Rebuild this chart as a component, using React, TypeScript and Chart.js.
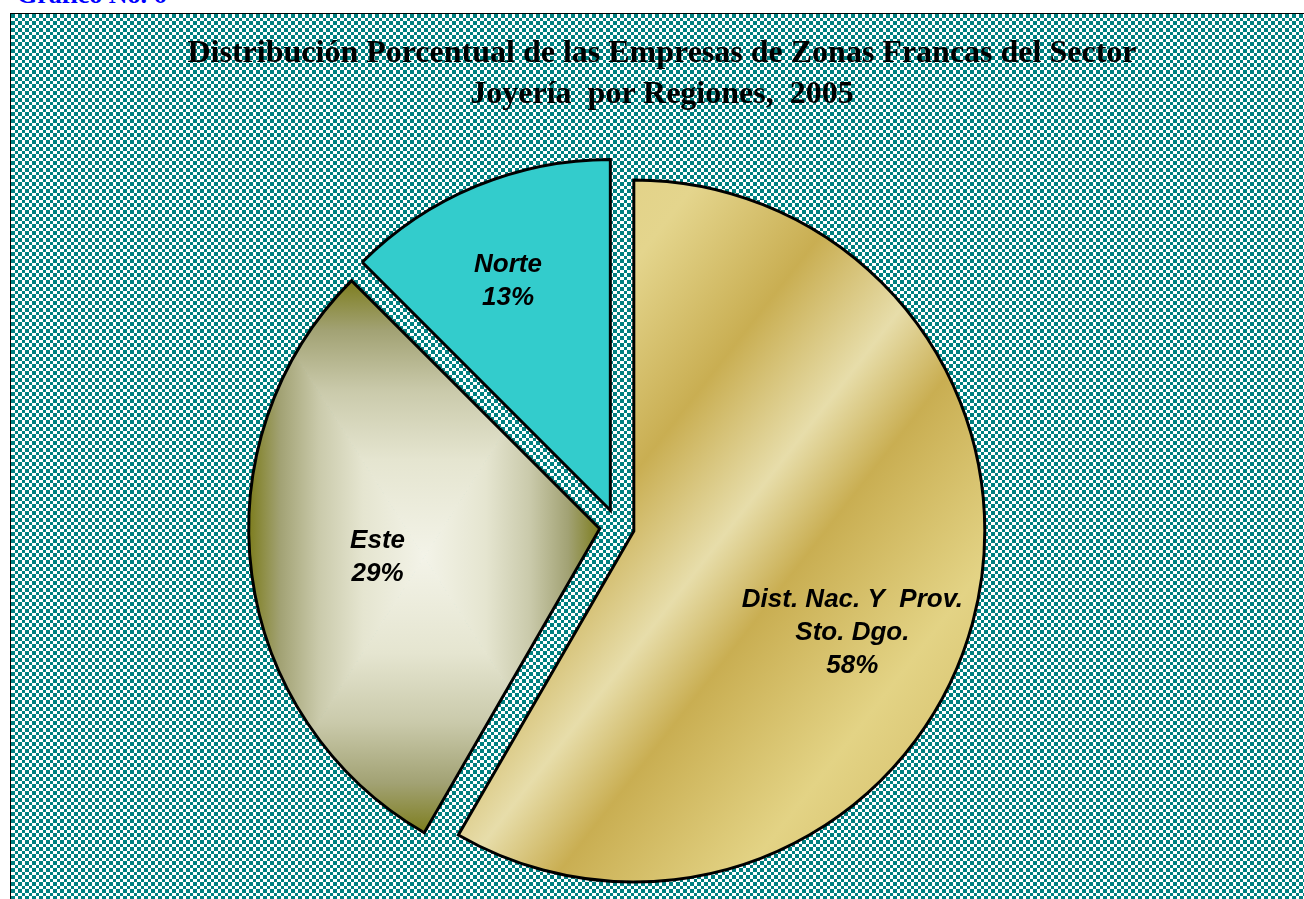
import React, { useEffect, useRef } from "react";
import { Chart, registerables } from "chart.js";

Chart.register(...registerables);

// ---------- data ----------
const categories = ["Dist. Nac. Y  Prov.\nSto. Dgo.", "Este", "Norte"];
const values = [14, 7, 3]; // número de empresas (58%, 29%, 13%)
const titleLines = [
  "Distribución Porcentual de las Empresas de Zonas Francas del Sector",
  "Joyería  por Regiones,  2005",
];
const caption = "Gráfico No. 6";

// ---------- layout / style ----------
const W = 1304;
const H = 899;
const RADIUS = 351;
const EXPLODE = 17.4;
const PIE_CX = 617;
const PIE_CY = 526.5;
const LABEL_FRAC = [0.687, 0.638, 0.714];
const LABEL_SHIFT_DEG = [10.0, 0.3, -1.6];
const LABEL_FONT = 'italic bold 26px "Liberation Sans", Arial, sans-serif';
const LABEL_LINE_H = 33;

type Geom = { cx: number; cy: number; a0: number; a1: number; r: number };

function sliceGeom(chart: any, i: number): Geom {
  const ca = chart.chartArea;
  const data = chart.data.datasets[0].data as number[];
  const total = data.reduce((a, b) => a + b, 0);
  let a0 = -Math.PI / 2;
  for (let k = 0; k < i; k++) a0 += (data[k] / total) * Math.PI * 2;
  const a1 = a0 + (data[i] / total) * Math.PI * 2;
  const mid = (a0 + a1) / 2;
  return {
    cx: (ca.left + ca.right) / 2 + Math.cos(mid) * EXPLODE,
    cy: (ca.top + ca.bottom) / 2 + Math.sin(mid) * EXPLODE,
    a0,
    a1,
    r: RADIUS,
  };
}

function goldFill(chart: any, g: Geom) {
  const ctx = chart.ctx as CanvasRenderingContext2D;
  const nx = 0.788;
  const ny = 0.616;
  const tStart = -0.65;
  const tEnd = 1.45;
  const grad = ctx.createLinearGradient(
    g.cx + nx * tStart * g.r,
    g.cy + ny * tStart * g.r,
    g.cx + nx * tEnd * g.r,
    g.cy + ny * tEnd * g.r
  );
  const stops: [number, string][] = [
    [-0.65, "#E2D288"],
    [-0.47, "#E4D58D"],
    [-0.1, "#C9AE52"],
    [0.21, "#E7DDAA"],
    [0.43, "#C9AE52"],
    [0.85, "#E3D385"],
    [1.45, "#CBB158"],
  ];
  stops.forEach(([t, c]) => grad.addColorStop((t - tStart) / (tEnd - tStart), c));
  return grad;
}

function boxFill(chart: any, g: Geom) {
  let x0 = g.cx, x1 = g.cx, y0 = g.cy, y1 = g.cy;
  for (let k = 0; k <= 96; k++) {
    const a = g.a0 + ((g.a1 - g.a0) * k) / 96;
    const px = g.cx + Math.cos(a) * g.r;
    const py = g.cy + Math.sin(a) * g.r;
    x0 = Math.min(x0, px); x1 = Math.max(x1, px);
    y0 = Math.min(y0, py); y1 = Math.max(y1, py);
  }
  const mx = (x0 + x1) / 2;
  const my = (y0 + y1) / 2;
  const off = document.createElement("canvas");
  off.width = chart.width;
  off.height = chart.height;
  const c = off.getContext("2d")!;
  const stops: [number, string][] = [
    [0, "#F3F3E8"],
    [0.35, "#E5E5D0"],
    [0.6, "#CACAAB"],
    [0.82, "#A2A274"],
    [1, "#7D7D1E"],
  ];
  const pad = 4;
  const X0 = x0 - pad, X1 = x1 + pad, Y0 = y0 - pad, Y1 = y1 + pad;
  const tri = (ax: number, ay: number, bx: number, by: number, ex: number, ey: number) => {
    const gr = c.createLinearGradient(mx, my, ex, ey);
    stops.forEach(([t, col]) => gr.addColorStop(t, col));
    c.fillStyle = gr;
    c.strokeStyle = gr;
    c.lineWidth = 1;
    c.beginPath();
    c.moveTo(mx, my);
    c.lineTo(ax, ay);
    c.lineTo(bx, by);
    c.closePath();
    c.fill();
    c.stroke();
  };
  tri(X0, Y0, X1, Y0, mx, y0);
  tri(X1, Y0, X1, Y1, x1, my);
  tri(X1, Y1, X0, Y1, mx, y1);
  tri(X0, Y1, X0, Y0, x0, my);
  return (chart.ctx as CanvasRenderingContext2D).createPattern(off, "no-repeat");
}

const FILLS = [goldFill, boxFill, () => "#33CCCC"];

const explodePlugin = {
  id: "explodeSlices",
  afterDatasetUpdate(chart: any, args: any) {
    args.meta.data.forEach((el: any) => {
      const mid = (el.startAngle + el.endAngle) / 2;
      el.x += Math.cos(mid) * EXPLODE;
      el.y += Math.sin(mid) * EXPLODE;
    });
  },
};

const labelPlugin = {
  id: "sliceLabels",
  afterDatasetsDraw(chart: any) {
    const meta = chart.getDatasetMeta(0);
    const ctx = chart.ctx as CanvasRenderingContext2D;
    const data = chart.data.datasets[0].data as number[];
    const total = data.reduce((a, b) => a + b, 0);
    ctx.save();
    ctx.font = LABEL_FONT;
    ctx.fillStyle = "#000";
    ctx.textAlign = "center";
    ctx.textBaseline = "middle";
    meta.data.forEach((el: any, i: number) => {
      const a = (el.startAngle + el.endAngle) / 2 + (LABEL_SHIFT_DEG[i] * Math.PI) / 180;
      const r = el.outerRadius * LABEL_FRAC[i];
      const lx = el.x + Math.cos(a) * r;
      const ly = el.y + Math.sin(a) * r;
      const lines = [
        ...String(chart.data.labels[i]).split("\n"),
        Math.round((data[i] / total) * 100) + "%",
      ];
      lines.forEach((t, k) => {
        ctx.fillText(t, lx, ly + (k - (lines.length - 1) / 2) * LABEL_LINE_H);
      });
    });
    ctx.restore();
  },
};

export default function App() {
  const ref = useRef<HTMLCanvasElement>(null);

  useEffect(() => {
    const chart = new Chart(ref.current!, {
      type: "pie",
      data: {
        labels: categories,
        datasets: [
          {
            data: values,
            backgroundColor: (c: any) => {
              const chart = c.chart;
              const i = c.dataIndex;
              if (!chart.chartArea || i === undefined) return "#cccccc";
              return FILLS[i](chart, sliceGeom(chart, i)) as any;
            },
            borderColor: "#000000",
            borderWidth: 3,
            borderAlign: "center",
            borderJoinStyle: "miter",
            radius: RADIUS,
          } as any,
        ],
      },
      options: {
        animation: false,
        responsive: false,
        devicePixelRatio: 1,
        events: [],
        radius: RADIUS,
        layout: {
          padding: {
            left: 0,
            right: W - 2 * PIE_CX,
            top: 2 * PIE_CY - H,
            bottom: 0,
          },
        },
        plugins: {
          legend: { display: false },
          title: { display: false },
          tooltip: { enabled: false },
        },
      } as any,
      plugins: [explodePlugin, labelPlugin],
    });
    return () => chart.destroy();
  }, []);

  const checker =
    "conic-gradient(from 0deg at 4px 4px, #ffffff 0 25%, #008080 0 50%, #ffffff 0 75%, #008080 0)";

  return (
    <div
      style={{
        position: "fixed",
        left: 0,
        top: 0,
        width: W,
        height: H,
        overflow: "hidden",
        background: "#ffffff",
      }}
    >
      <div
        style={{
          position: "absolute",
          left: 17,
          top: -18,
          font: 'bold 26px/26px "Liberation Serif", "Times New Roman", serif',
          color: "#0000FF",
          whiteSpace: "pre",
        }}
      >
        {caption}
      </div>
      <div
        style={{
          position: "absolute",
          left: 10,
          top: 13,
          width: W + 20,
          height: H,
          borderTop: "1px solid #000",
          borderLeft: "1px solid #000",
          backgroundImage: checker,
          backgroundSize: "7px 7px",
        }}
      />
      <canvas
        ref={ref}
        width={W}
        height={H}
        style={{ position: "absolute", left: 0, top: 0, width: W, height: H }}
      />
      <div
        style={{
          position: "absolute",
          left: 0,
          top: 31,
          width: 1324,
          textAlign: "center",
          font: 'bold 32px/41px "Liberation Serif", "Times New Roman", serif',
          color: "#000",
          whiteSpace: "pre",
        }}
      >
        {titleLines.map((t, i) => (
          <div key={i}>{t}</div>
        ))}
      </div>
    </div>
  );
}
